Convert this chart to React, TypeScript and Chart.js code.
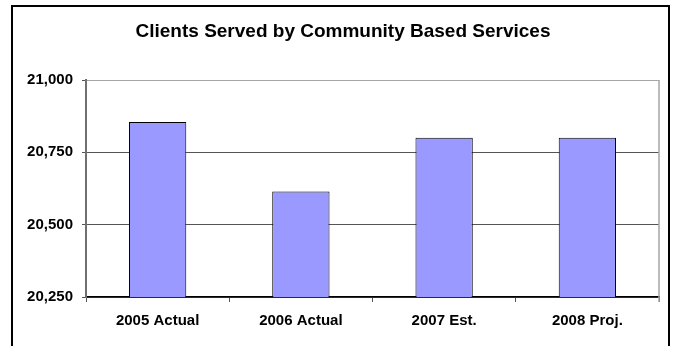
import React, { useEffect, useRef } from "react";
import { Chart, registerables } from "chart.js";

Chart.register(...registerables);

const TITLE = "Clients Served by Community Based Services";
const categories = ["2005 Actual", "2006 Actual", "2007 Est.", "2008 Proj."];
const clientsServed = [20855, 20615, 20800, 20800];
const yTicks = [20250, 20500, 20750, 21000];

const FONT = "'Liberation Sans', Arial, Helvetica, sans-serif";

const framePlugin = {
  id: "frameAndTitle",
  afterDraw(chart: any) {
    const ctx = chart.ctx;
    const area = chart.chartArea;
    ctx.save();
    // plot area right border (light grey)
    ctx.strokeStyle = "#a6a6a6";
    ctx.lineWidth = 1.5;
    ctx.beginPath();
    ctx.moveTo(area.right, area.top);
    ctx.lineTo(area.right, area.bottom + 5);
    ctx.stroke();
    // outer frame
    ctx.fillStyle = "#000";
    ctx.fillRect(11, 5, 2, 341);
    ctx.fillRect(11, 5, 659, 2);
    ctx.fillRect(668, 5, 2, 341);
    // title
    ctx.fillStyle = "#000";
    ctx.font = `bold 19px ${FONT}`;
    ctx.textAlign = "center";
    ctx.textBaseline = "middle";
    ctx.fillText(TITLE, 343, 32);
    ctx.restore();
  },
};

export default function App() {
  const canvasRef = useRef<HTMLCanvasElement | null>(null);

  useEffect(() => {
    if (!canvasRef.current) return;
    const chart = new Chart(canvasRef.current, {
      type: "bar",
      data: {
        labels: categories,
        datasets: [
          {
            label: "Clients Served",
            data: clientsServed,
            backgroundColor: "#9999ff",
            borderColor: "#000000",
            borderWidth: 1,
            barPercentage: 0.4,
            categoryPercentage: 1.0,
          },
        ],
      },
      options: {
        animation: false,
        responsive: true,
        maintainAspectRatio: false,
        layout: { padding: { top: 80, left: 14, right: 15, bottom: 0 } },
        plugins: {
          legend: { display: false },
          title: { display: false },
          tooltip: { enabled: false },
        },
        scales: {
          x: {
            afterFit: (scale: any) => {
              scale.height = 49;
            },
            grid: {
              display: true,
              offset: true,
              drawOnChartArea: false,
              drawTicks: true,
              tickLength: 5,
              color: "#555",
            },
            border: { display: true, color: "#000", width: 1.5 },
            ticks: {
              padding: 10,
              color: "#000",
              font: { family: FONT, size: 15, weight: "bold" },
            },
          },
          y: {
            min: yTicks[0],
            max: yTicks[yTicks.length - 1],
            afterFit: (scale: any) => {
              scale.width = 72;
            },
            afterBuildTicks: (scale: any) => {
              scale.ticks = yTicks.map((v) => ({ value: v }));
            },
            grid: {
              color: (ctx: any) =>
                ctx.tick && ctx.tick.value === yTicks[yTicks.length - 1] ? "#a6a6a6" : "#555",
              tickColor: "#555",
              tickLength: 4,
              lineWidth: 1,
            },
            border: { display: true, color: "#707070", width: 2 },
            ticks: {
              padding: 9,
              color: "#000",
              font: { family: FONT, size: 15, weight: "bold" },
              callback: (v: any) => Number(v).toLocaleString("en-US"),
            },
          },
        },
      },
      plugins: [framePlugin],
    });
    return () => chart.destroy();
  }, []);

  return (
    <div style={{ position: "absolute", left: 0, top: 0, width: 674, height: 346, background: "#fff" }}>
      <canvas ref={canvasRef} />
    </div>
  );
}
